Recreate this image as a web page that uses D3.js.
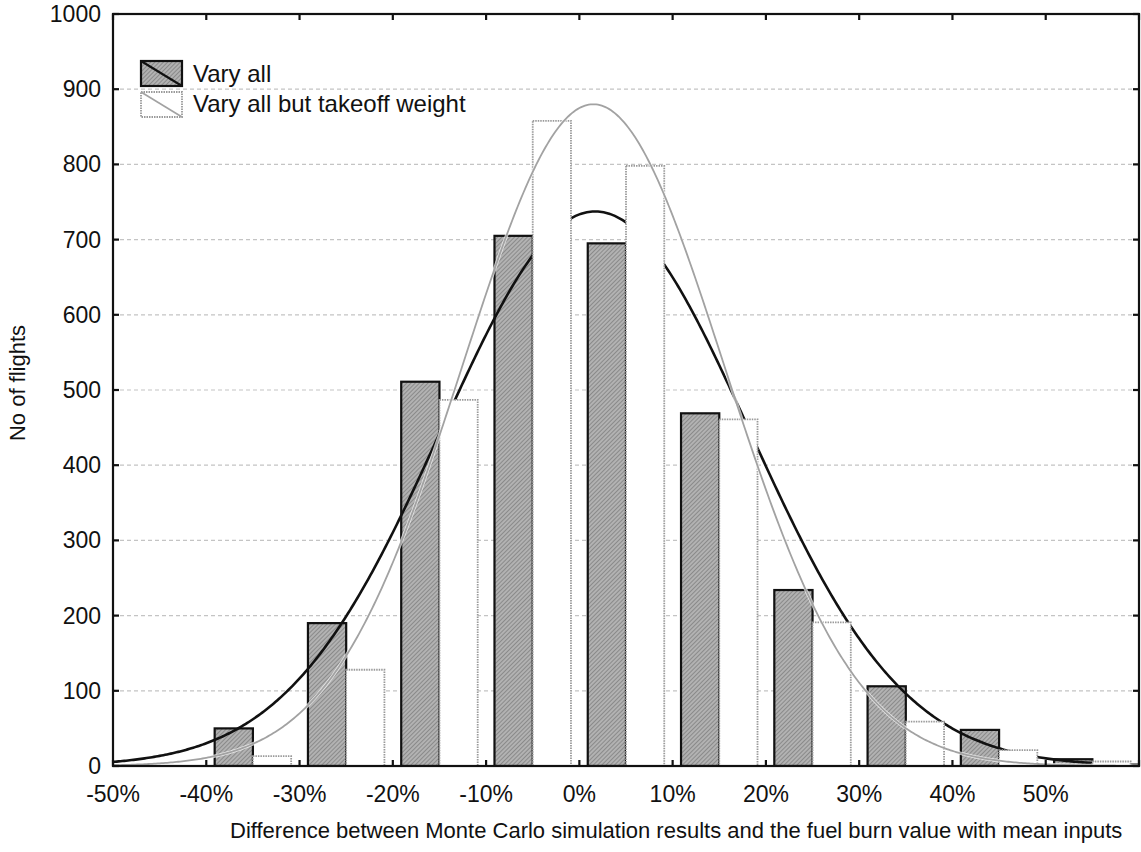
<!DOCTYPE html>
<html>
<head>
<meta charset="utf-8">
<script src="https://cdn.jsdelivr.net/npm/d3@7"></script>
<style>
  html, body { margin: 0; padding: 0; background: #fff; }
  svg { display: block; font-family: "Liberation Sans", Arial, sans-serif; }
</style>
</head>
<body>
<svg id="chart" width="1141" height="852"></svg>
<script>
// Histogram bins (centre of each 10% bin, in percent)
const binCenters = [-35, -25, -15, -5, 5, 15, 25, 35, 45, 55];
// Number of flights per bin
const varyAll = [50, 190, 511, 705, 695, 469, 234, 106, 48, 9];
const varyAllButTakeoff = [13, 128, 487, 858, 798, 461, 191, 59, 21, 6];

// Fitted normal curves: mean (%), standard deviation (%), sample count
const fitVaryAll = { mean: 1.7, sd: 16.5, n: 3050 };
const fitVaryAllButTakeoff = { mean: 1.5, sd: 14.0, n: 3088 };

// Axis ticks
const xTicks = [-50, -40, -30, -20, -10, 0, 10, 20, 30, 40, 50];
const yTicks = [0, 100, 200, 300, 400, 500, 600, 700, 800, 900, 1000];
const seriesNames = ["Vary all", "Vary all but takeoff weight"];
const xTitle = "Difference between Monte Carlo simulation results and the fuel burn value with mean inputs";
const yTitle = "No of flights";

const svg = d3.select("#chart");
const plotL = 113, plotR = 1139, plotT = 14, plotB = 766;

const x = d3.scaleLinear().domain([-50, 60]).range([plotL, plotR]);
const y = d3.scaleLinear().domain([0, 1000]).range([plotB, plotT]);
const binWidth = 10;
const barW = 4.1; // width of each bar in percent units

// Hatch pattern for the "Vary all" bars
const defs = svg.append("defs");
const pat = defs.append("pattern")
  .attr("id", "hatch")
  .attr("patternUnits", "userSpaceOnUse")
  .attr("width", 3).attr("height", 3)
  .attr("patternTransform", "rotate(45)");
pat.append("rect").attr("width", 3).attr("height", 3).attr("fill", "#b2b2b2");
pat.append("line").attr("x1", 0).attr("y1", 0).attr("x2", 0).attr("y2", 3)
  .attr("stroke", "#6f6f6f").attr("stroke-width", 1.2);

defs.append("clipPath").attr("id", "plotClip")
  .append("rect").attr("x", plotL).attr("y", plotT)
  .attr("width", plotR - plotL).attr("height", plotB - plotT);

// Horizontal dotted grid
svg.append("g").selectAll("line")
  .data(yTicks.filter(d => d > 0 && d < 1000))
  .join("line")
  .attr("x1", plotL).attr("x2", plotR)
  .attr("y1", d => y(d)).attr("y2", d => y(d))
  .attr("stroke", "#c4c4c4").attr("stroke-width", 1.2)
  .attr("stroke-dasharray", "4 3");

const plot = svg.append("g").attr("clip-path", "url(#plotClip)");

// Normal curve points
function normalCurve(fit) {
  const pts = d3.range(-50, 60.001, 0.2);
  return pts.map(v => {
    const z = (v - fit.mean) / fit.sd;
    const dens = Math.exp(-0.5 * z * z) / (fit.sd * Math.sqrt(2 * Math.PI));
    return [v, fit.n * binWidth * dens];
  });
}
const line = d3.line().x(d => x(d[0])).y(d => y(d[1]));

// "Vary all" bars
plot.append("g").selectAll("rect")
  .data(binCenters.map((c, i) => ({ c, v: varyAll[i] })))
  .join("rect")
  .attr("x", d => x(d.c - barW))
  .attr("width", d => x(d.c) - x(d.c - barW))
  .attr("y", d => y(d.v))
  .attr("height", d => y(0) - y(d.v))
  .attr("fill", "url(#hatch)")
  .attr("stroke", "#111").attr("stroke-width", 2.2);

// "Vary all" fitted curve
plot.append("path")
  .datum(normalCurve(fitVaryAll))
  .attr("d", line)
  .attr("fill", "none").attr("stroke", "#111").attr("stroke-width", 2.6);

// "Vary all but takeoff weight" bars
plot.append("g").selectAll("rect")
  .data(binCenters.map((c, i) => ({ c, v: varyAllButTakeoff[i] })))
  .join("rect")
  .attr("x", d => x(d.c))
  .attr("width", d => x(d.c + barW) - x(d.c))
  .attr("y", d => y(d.v))
  .attr("height", d => y(0) - y(d.v))
  .attr("fill", "#fff")
  .attr("stroke", "#9a9a9a").attr("stroke-width", 1.8)
  .attr("stroke-dasharray", "1.5 1");

// "Vary all but takeoff weight" fitted curve
const lightCurve = normalCurve(fitVaryAllButTakeoff);
plot.append("path").datum(lightCurve).attr("d", line)
  .attr("fill", "none").attr("stroke", "#fff").attr("stroke-width", 3.4).attr("stroke-opacity", 0.7);
plot.append("path").datum(lightCurve).attr("d", line)
  .attr("fill", "none").attr("stroke", "#a2a2a2").attr("stroke-width", 1.8);

// Frame
svg.append("rect")
  .attr("x", plotL).attr("y", plotT)
  .attr("width", plotR - plotL).attr("height", plotB - plotT)
  .attr("fill", "none").attr("stroke", "#111").attr("stroke-width", 2.2);

// Inward ticks on all four sides
const tickLen = 6;
const tickG = svg.append("g").attr("stroke", "#111").attr("stroke-width", 2.2);
xTicks.concat([60]).forEach(t => {
  tickG.append("line").attr("x1", x(t)).attr("x2", x(t)).attr("y1", plotB).attr("y2", plotB - tickLen);
  tickG.append("line").attr("x1", x(t)).attr("x2", x(t)).attr("y1", plotT).attr("y2", plotT + tickLen);
});
yTicks.forEach(t => {
  tickG.append("line").attr("x1", plotL).attr("x2", plotL + tickLen).attr("y1", y(t)).attr("y2", y(t));
  tickG.append("line").attr("x1", plotR).attr("x2", plotR - tickLen).attr("y1", y(t)).attr("y2", y(t));
});

// Tick labels
svg.append("g").selectAll("text")
  .data(yTicks).join("text")
  .attr("x", 101).attr("y", d => y(d)).attr("dy", "0.35em")
  .attr("text-anchor", "end").attr("font-size", 23).attr("fill", "#111")
  .text(d => d);

svg.append("g").selectAll("text")
  .data(xTicks).join("text")
  .attr("x", d => x(d)).attr("y", 802)
  .attr("text-anchor", "middle").attr("font-size", 23).attr("fill", "#111")
  .text(d => d + "%");

// Axis titles
svg.append("text")
  .attr("x", 230).attr("y", 838)
  .attr("font-size", 22).attr("fill", "#111")
  .text(xTitle);

svg.append("text")
  .attr("transform", "translate(25,383) rotate(-90)")
  .attr("text-anchor", "middle").attr("font-size", 22).attr("fill", "#111")
  .text(yTitle);

// Legend
const lg = svg.append("g");
const sw = { x: 141, w: 41, h: 25 };
const rows = [61, 92];
lg.append("rect").attr("x", sw.x).attr("y", rows[0]).attr("width", sw.w).attr("height", sw.h)
  .attr("fill", "url(#hatch)").attr("stroke", "#111").attr("stroke-width", 2.2);
lg.append("line").attr("x1", sw.x).attr("y1", rows[0]).attr("x2", sw.x + sw.w).attr("y2", rows[0] + sw.h)
  .attr("stroke", "#111").attr("stroke-width", 2.2);
lg.append("rect").attr("x", sw.x).attr("y", rows[1]).attr("width", sw.w).attr("height", sw.h)
  .attr("fill", "#fff").attr("stroke", "#9a9a9a").attr("stroke-width", 1.8).attr("stroke-dasharray", "1.5 1");
lg.append("line").attr("x1", sw.x).attr("y1", rows[1]).attr("x2", sw.x + sw.w).attr("y2", rows[1] + sw.h)
  .attr("stroke", "#a2a2a2").attr("stroke-width", 1.6);
lg.selectAll("text.lab").data(seriesNames).join("text")
  .attr("class", "lab")
  .attr("x", 193).attr("y", (d, i) => [82, 112][i])
  .attr("font-size", 24).attr("fill", "#111")
  .text(d => d);
</script>
</body>
</html>
